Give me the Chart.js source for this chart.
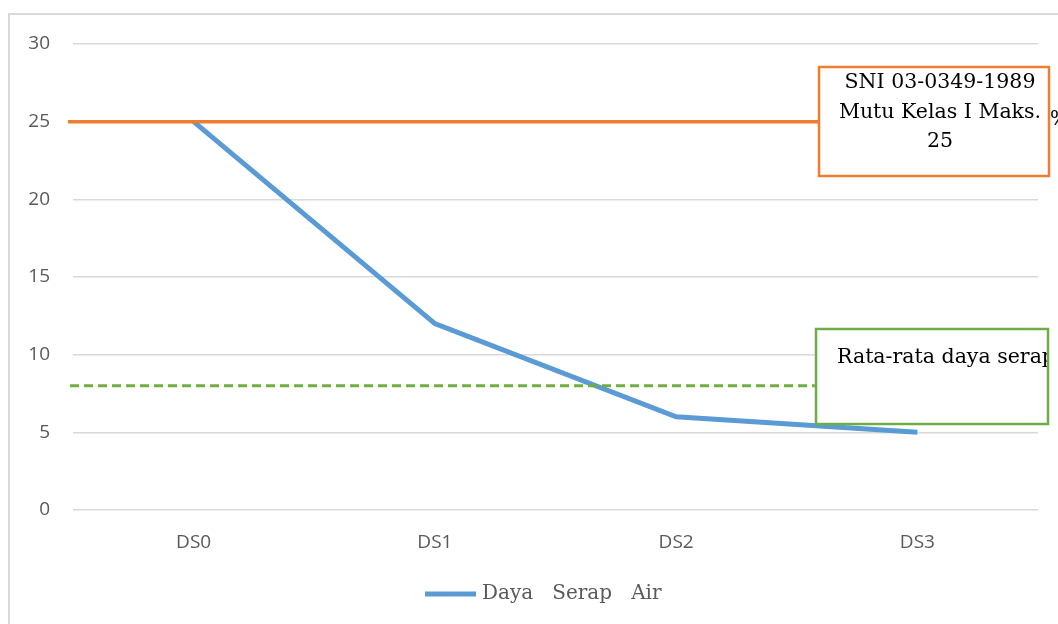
<!DOCTYPE html>
<html>
<head>
<meta charset="utf-8">
<script src="https://cdn.jsdelivr.net/npm/chart.js@4.4.1/dist/chart.umd.min.js"></script>
<style>
  html, body { margin: 0; padding: 0; background: #ffffff; }
  #wrap { width: 1058px; height: 624px; position: relative; }
</style>
</head>
<body>
<div id="wrap"><canvas id="c" width="1058" height="624"></canvas></div>
<script>
// Samples and measured water absorption (%)
const categories = ['DS0', 'DS1', 'DS2', 'DS3'];
const dayaSerapAir = [25, 12, 6, 5];
const seriesLabel = 'Daya   Serap   Air';

// Reference levels
const sniLimit = 25;     // SNI 03-0349-1989, quality class I maximum
const averageLevel = 8;  // average absorption

// Axis ticks
const yTicks = [0, 5, 10, 15, 20, 25, 30];

// Callout texts
const sniLines = ['SNI 03-0349-1989', 'Mutu Kelas I Maks.', '25'];
const avgText = 'Rata-rata daya serap';

const BLUE = '#5B9BD5', ORANGE = '#ED7D31', GREEN = '#70AD47', GRID = '#D9D9D9';
const SERIF = '"DejaVu Serif", "Liberation Serif", serif';
const SANS = '"Open Sans", "Liberation Sans", sans-serif';

const overlay = {
  id: 'overlay',
  beforeDraw(chart) {
    const ctx = chart.ctx;
    ctx.save();
    ctx.fillStyle = '#ffffff';
    ctx.fillRect(0, 0, chart.width, chart.height);
    // outer frame
    ctx.strokeStyle = GRID;
    ctx.lineWidth = 2;
    ctx.beginPath();
    ctx.moveTo(9, chart.height + 2);
    ctx.lineTo(9, 14);
    ctx.lineTo(chart.width + 2, 14);
    ctx.stroke();
    ctx.restore();
  },
  afterDatasetsDraw(chart) {
    const ctx = chart.ctx;
    const ys = chart.scales.y;
    const area = chart.chartArea;

    // average line (dashed)
    const yAvg = ys.getPixelForValue(averageLevel);
    ctx.save();
    ctx.strokeStyle = GREEN;
    ctx.lineWidth = 3;
    ctx.setLineDash([9, 5]);
    ctx.beginPath();
    ctx.moveTo(area.left - 3, yAvg);
    ctx.lineTo(816, yAvg);
    ctx.stroke();
    ctx.restore();

    // SNI limit line
    const ySni = ys.getPixelForValue(sniLimit);
    ctx.save();
    ctx.strokeStyle = ORANGE;
    ctx.lineWidth = 3.5;
    ctx.beginPath();
    ctx.moveTo(area.left - 5, ySni);
    ctx.lineTo(819, ySni);
    ctx.stroke();
    ctx.restore();

    // stray "%" peeking beyond the SNI callout
    ctx.save();
    ctx.fillStyle = '#000';
    ctx.font = '20px ' + SERIF;
    ctx.textBaseline = 'middle';
    ctx.fillText('%', 1050, ySni - 2);
    ctx.restore();

    // SNI callout box
    ctx.save();
    ctx.fillStyle = '#ffffff';
    ctx.fillRect(819, 67, 230, 109);
    ctx.strokeStyle = ORANGE;
    ctx.lineWidth = 2.5;
    ctx.strokeRect(819, 67, 230, 109);
    ctx.fillStyle = '#000';
    ctx.font = '20.5px ' + SERIF;
    ctx.textAlign = 'center';
    ctx.textBaseline = 'middle';
    sniLines.forEach((t, i) => ctx.fillText(t, 940, 83 + i * 29.5));
    ctx.restore();

    // average callout box
    ctx.save();
    ctx.fillStyle = '#ffffff';
    ctx.fillRect(816, 329, 232, 95);
    ctx.beginPath();
    ctx.rect(816, 329, 232, 95);
    ctx.clip();
    ctx.fillStyle = '#000';
    ctx.font = '20.5px ' + SERIF;
    ctx.textBaseline = 'middle';
    ctx.fillText(avgText, 837, 358);
    ctx.restore();
    ctx.save();
    ctx.strokeStyle = GREEN;
    ctx.lineWidth = 2.5;
    ctx.strokeRect(816, 329, 232, 95);
    ctx.restore();

    // legend
    const ds = chart.data.datasets[0];
    ctx.save();
    ctx.strokeStyle = ds.borderColor;
    ctx.lineWidth = 5;
    ctx.beginPath();
    ctx.moveTo(425, 594);
    ctx.lineTo(476, 594);
    ctx.stroke();
    ctx.fillStyle = '#595959';
    ctx.font = '20px ' + SERIF;
    ctx.textBaseline = 'middle';
    ctx.fillText(ds.label, 482, 594);
    ctx.restore();
  }
};

new Chart(document.getElementById('c'), {
  type: 'line',
  data: {
    labels: categories,
    datasets: [{
      label: seriesLabel,
      data: dayaSerapAir,
      borderColor: BLUE,
      backgroundColor: BLUE,
      borderWidth: 5,
      pointRadius: 0,
      tension: 0,
      borderCapStyle: 'butt'
    }]
  },
  options: {
    responsive: false,
    animation: false,
    layout: { padding: { left: 0, right: 20, top: 44, bottom: 0 } },
    plugins: { legend: { display: false }, tooltip: { enabled: false } },
    scales: {
      x: {
        offset: true,
        grid: { display: false, drawTicks: false },
        border: { display: false },
        ticks: { color: '#595959', font: { family: SANS, size: 19 }, padding: 21 },
        afterFit(s) { s.height = 114; }
      },
      y: {
        min: 0, max: 30,
        afterBuildTicks(s) { s.ticks = yTicks.map(v => ({ value: v })); },
        grid: { color: GRID, lineWidth: 1.5, drawTicks: false },
        border: { display: false },
        ticks: { color: '#595959', font: { family: SANS, size: 19 }, padding: 23 },
        afterFit(s) { s.width = 73; }
      }
    }
  },
  plugins: [overlay]
});
</script>
</body>
</html>
